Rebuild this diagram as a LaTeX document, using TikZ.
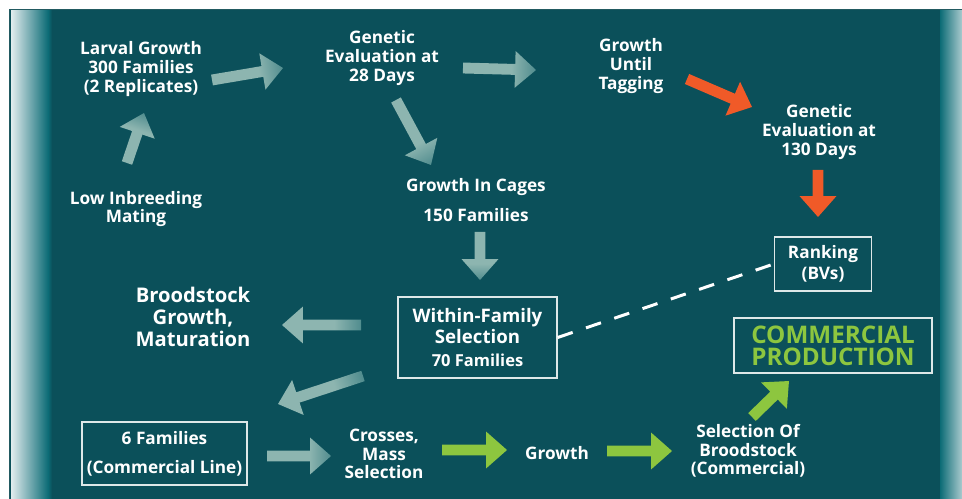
\documentclass[tikz,border=0pt]{standalone}
\usepackage{fontspec}
\setmainfont{Open Sans}
\usetikzlibrary{calc}

\definecolor{panel}{RGB}{11,80,90}
\definecolor{edgeteal}{RGB}{12,108,118}
\definecolor{edgelight}{RGB}{226,236,238}
\definecolor{rightlight}{RGB}{170,202,206}
\definecolor{arrowgrey}{RGB}{141,181,176}
\definecolor{arrowfade}{RGB}{80,140,142}
\definecolor{orangearrow}{RGB}{240,90,40}
\definecolor{greenarrow}{RGB}{141,198,63}
\definecolor{boxline}{RGB}{222,232,232}

\pgfdeclarehorizontalshading{fadetip}{100bp}{color(0bp)=(arrowgrey); color(25bp)=(arrowgrey); color(58bp)=(arrowgrey); color(75bp)=(arrowfade); color(100bp)=(arrowfade)}
\pgfdeclarehorizontalshading{fadetail}{100bp}{color(0bp)=(arrowfade); color(25bp)=(arrowfade); color(42bp)=(arrowgrey); color(100bp)=(arrowgrey)}

\tikzset{
  txt/.style={text=white, align=center, inner sep=0pt,
    font=\bfseries\fontsize{9.8}{10.6}\selectfont},
  bigtxt/.style={txt, font=\bfseries\fontsize{11.5}{12.6}\selectfont},
  framebox/.style={draw=boxline, line width=0.8pt},
  gfade/.style={shade, shading=fadetip},
  gtail/.style={shade, shading=fadetail},
  orfill/.style={fill=orangearrow},
  grfill/.style={fill=greenarrow},
  dashline/.style={draw=white, line width=1.7pt, dash pattern=on 9pt off 8pt}
}

% block arrow from #2 to #3
\newcommand{\blockarrow}[3][gfade]{%
  \path let \p1=(#2), \p2=(#3),
    \n1={atan2(\y2-\y1,\x2-\x1)}, \n2={veclen(\x2-\x1,\y2-\y1)} in
    \pgfextra{\xdef\arrang{\n1}\xdef\arrlen{\n2}\xdef\arrx{\x1}\xdef\arry{\y1}};
  \begin{scope}[transform canvas={shift={(\arrx,\arry)},rotate=\arrang}]
    \path[#1] (0pt,-3.1pt) -- ({\arrlen-11.9pt},-3.1pt) -- ({\arrlen-11.9pt},-10.5pt)
      -- (\arrlen,0pt) -- ({\arrlen-11.9pt},10.5pt) -- ({\arrlen-11.9pt},3.1pt)
      -- (0pt,3.1pt) -- cycle;
  \end{scope}}

\begin{document}
\begin{tikzpicture}[x=0.02cm,y=-0.02cm]
  \useasboundingbox (0,0) rectangle (962,499);

  % background panel
  \fill[white] (0,0) rectangle (962,499);
  \fill[panel] (9,9) rectangle (962,499);
  \shade[left color=edgelight, right color=edgeteal] (11,10) rectangle (48,499);
  \shade[left color=edgeteal, right color=panel] (48,10) rectangle (52,499);
  \shade[left color=edgeteal, right color=rightlight] (940,10) rectangle (962,499);
  \draw[panel!80!gray, line width=0.4pt] (9,499) -- (9,9.5) -- (962,9.5);

  % stages
  \node[txt] (larval)  at (141,69)  {Larval Growth\\300 Families\\(2 Replicates)};
  \node[txt] (mating)  at (136,209) {Low Inbreeding\\Mating};
  \node[txt] (eval28)  at (382,58)  {Genetic\\Evaluation at\\28 Days};
  \node[txt] (tagging) at (631,66)  {Growth\\Until\\Tagging};
  \node[txt] (eval130) at (819,132) {Genetic\\Evaluation at\\130 Days};
  \node[txt] (cages)   at (476,200) {Growth In Cages\\[6.5pt]150 Families};
  \node[txt, framebox, minimum width=1.94cm, minimum height=1.08cm]
    (ranking) at (823,264) {Ranking\\[1.5pt](BVs)};
  \node[txt, framebox, minimum width=3.18cm, minimum height=1.62cm,
    font=\bfseries\fontsize{10.6}{12}\selectfont]
    (within) at (477.5,337.5) {Within-Family\\Selection\\[1pt]{\fontsize{9.4}{10}\selectfont 70 Families}};
  \node[bigtxt] (brood) at (193,317) {Broodstock\\Growth,\\Maturation};
  \node[txt, framebox, minimum width=3.96cm, minimum height=1.1cm, text=greenarrow,
    font=\bfseries\fontsize{13.8}{12.6}\selectfont]
    (commercial) at (833,345.5) {COMMERCIAL\\PRODUCTION};
  \node[txt, framebox, minimum width=3.3cm, minimum height=1.26cm]
    (sixfam) at (164.5,453.5) {6 Families\\[6pt](Commercial Line)};
  \node[txt] (crosses)  at (384,454) {Crosses,\\Mass\\Selection};
  \node[txt] (growth)   at (557,453) {Growth};
  \node[txt] (selbrood) at (748,451) {Selection Of\\Broodstock\\(Commercial)};

  % arrow ends
  \coordinate (t1) at (127,163);  \coordinate (h1) at (144,113);
  \coordinate (t2) at (212,80);   \coordinate (h2) at (283,68);
  \coordinate (t3) at (463,68);   \coordinate (h3) at (536,70);
  \coordinate (t4) at (396,100);  \coordinate (h4) at (431,165);
  \coordinate (t5) at (687,79);   \coordinate (h5) at (752,107);
  \coordinate (t6) at (818,170);  \coordinate (h6) at (818,217);
  \coordinate (t7) at (480,232);  \coordinate (h7) at (480,280);
  \coordinate (t8) at (361,325);  \coordinate (h8) at (282,325);
  \coordinate (t9) at (363,376);  \coordinate (h9) at (278,404);
  \coordinate (t10) at (267,456); \coordinate (h10) at (331,456);
  \coordinate (t11) at (442,450); \coordinate (h11) at (507,450);
  \coordinate (t12) at (607,451); \coordinate (h12) at (672,451);
  \coordinate (t13) at (752,417); \coordinate (h13) at (789,381);

  \blockarrow{t1}{h1}
  \blockarrow{t2}{h2}
  \blockarrow{t3}{h3}
  \blockarrow{t4}{h4}
  \blockarrow[orfill]{t5}{h5}
  \blockarrow[orfill]{t6}{h6}
  \blockarrow{t7}{h7}
  \blockarrow[gtail]{t8}{h8}
  \blockarrow[gtail]{t9}{h9}
  \blockarrow{t10}{h10}
  \blockarrow[grfill]{t11}{h11}
  \blockarrow[grfill]{t12}{h12}
  \blockarrow[grfill]{t13}{h13}

  \draw[dashline] (within.east) -- (ranking.west);
\end{tikzpicture}
\end{document}
